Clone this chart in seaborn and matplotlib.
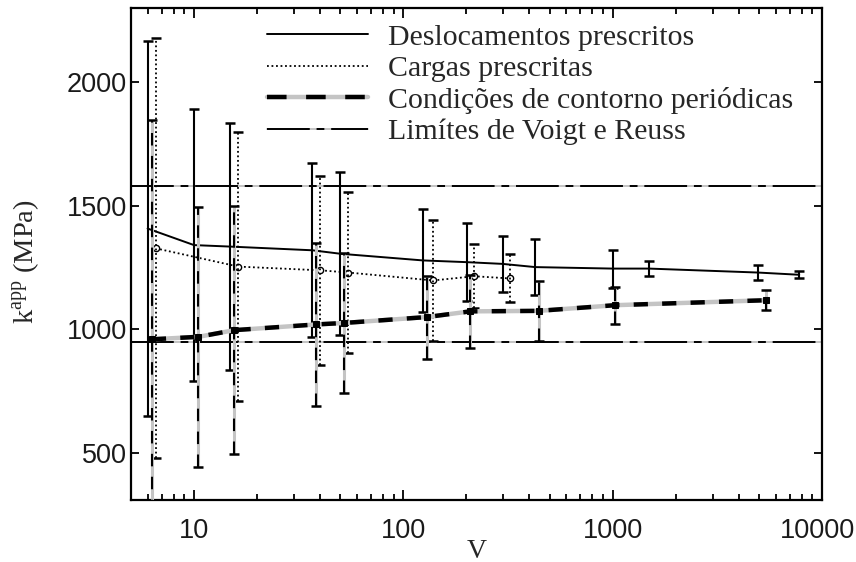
import numpy as np
import pandas as pd
import matplotlib
matplotlib.use("Agg")
import matplotlib.pyplot as plt
import seaborn as sns
from matplotlib.lines import Line2D
from matplotlib.ticker import NullFormatter
from matplotlib.transforms import ScaledTranslation

# ---- data ----
v_desl = [6.0, 10.0, 14.9, 36.8, 50.0, 124, 201, 298, 427, 1000, 1493, 4943, 7785]
k_desl = [1408, 1341, 1335, 1320, 1306, 1279, 1272, 1265, 1252, 1246, 1246, 1230, 1221]
e_desl = [760, 550, 500, 352, 330, 209, 157, 114, 113, 77, 31, 32, 15]

v_carg = [6.56, 16.3, 40.1, 54.7, 138.7, 218.7, 325]
k_carg = [1328, 1254, 1239, 1230, 1198, 1215, 1206]
e_carg = [850, 543, 381, 325, 243, 129, 97]

v_per = [6.29, 10.5, 15.6, 38.2, 52.0, 129.7, 209, 443, 1030, 5400]
k_per = [960, 970, 997, 1020, 1026, 1050, 1073, 1075, 1098, 1118]
e_per = [885, 527, 502, 330, 283, 168, 147, 121, 75, 40]

voigt = 1580
reuss = 950

labels = ["Deslocamentos prescritos", "Cargas prescritas",
          "Condições de contorno periódicas", "Limítes de Voigt e Reuss"]
xticks = [10, 100, 1000, 10000]
xticklabels = ["10", "100", "1000", "10000"]
yticks = [500, 1000, 1500, 2000]
yticklabels = ["500", "1000", "1500", "2000"]

sns.set_theme(style="ticks")
plt.rcParams["font.family"] = ["Liberation Serif", "DejaVu Serif"]
plt.rcParams["mathtext.fontset"] = "custom"
plt.rcParams["mathtext.rm"] = "Liberation Serif"

W, H = 856, 562
fig = plt.figure(figsize=(W / 100, H / 100), dpi=100)
fig.patch.set_facecolor("white")
L, R, T, B = 131, 822, 8, 500
ax = fig.add_axes([L / W, 1 - B / H, (R - L) / W, (B - T) / H])
ax.set_facecolor("white")

GREY = "#c4c4c4"
VR_DASH = (0, (22, 3.5, 4, 3.5))

# Voigt / Reuss bounds
for yb in (voigt, reuss):
    ax.axhline(yb, color=GREY, lw=1.4, zorder=1)
    ax.axhline(yb, color="black", lw=1.4, linestyle=VR_DASH, zorder=1.5)

df_d = pd.DataFrame({"V": v_desl, "k": k_desl})
df_c = pd.DataFrame({"V": v_carg, "k": k_carg})
df_p = pd.DataFrame({"V": v_per, "k": k_per})

# Deslocamentos prescritos
sns.lineplot(data=df_d, x="V", y="k", ax=ax, color="black", lw=1.4, sort=False, zorder=3)
ax.errorbar(v_desl, k_desl, yerr=e_desl, fmt="none", ecolor="black", elinewidth=1.5,
            capsize=3.3, capthick=1.8, zorder=3)

# Cargas prescritas
sns.lineplot(data=df_c, x="V", y="k", ax=ax, color="black", lw=1.3, linestyle=(0, (1, 1.5)),
             sort=False, zorder=3, marker="o", markersize=4.5, markerfacecolor="white",
             markeredgecolor="black", markeredgewidth=1)
eb = ax.errorbar(v_carg, k_carg, yerr=e_carg, fmt="none", ecolor="black", elinewidth=1.3,
                 capsize=3.3, capthick=1.8, zorder=3)
for b in eb[2]:
    b.set_linestyle((0, (1, 1.5)))

# Condicoes periodicas
ax.errorbar(v_per, k_per, yerr=e_per, fmt="none", ecolor=GREY, elinewidth=2.2, zorder=3.5)
eb = ax.errorbar(v_per, k_per, yerr=e_per, fmt="none", ecolor="black", elinewidth=1.5,
                 capsize=3.3, capthick=1.8, zorder=3.6)
for b in eb[2]:
    b.set_linestyle((0, (6, 5)))
sns.lineplot(data=df_p, x="V", y="k", ax=ax, color=GREY, lw=3.2, sort=False, zorder=4)
sns.lineplot(data=df_p, x="V", y="k", ax=ax, color="black", lw=3.2, linestyle=(0, (3.2, 3.2)),
             sort=False, zorder=4.1, marker="s", markersize=5, markerfacecolor="black",
             markeredgecolor="black")

ax.set_xscale("log")
ax.set_xlim(5, 10000)
ax.set_ylim(310, 2300)
ax.set_xticks(xticks)
ax.set_xticklabels(xticklabels, fontfamily="Liberation Sans", fontsize=19.5)
ax.xaxis.set_minor_formatter(NullFormatter())
ax.set_yticks(yticks)
ax.set_yticklabels(yticklabels, fontfamily="Liberation Sans", fontsize=19.5)
ax.tick_params(axis="both", which="both", direction="in", top=True, right=True,
               color="black", width=1.3, labelcolor="#1a1a1a")
ax.tick_params(axis="x", which="both", pad=13)
ax.tick_params(axis="y", which="both", pad=3)
ax.tick_params(axis="x", which="major", length=7)
ax.tick_params(axis="x", which="minor", length=4.5)
ax.tick_params(axis="y", which="major", length=5.5)
for s in ax.spines.values():
    s.set_visible(True)
    s.set_color("black")
    s.set_linewidth(1.6)

# keep the last x tick label inside the canvas
last = ax.xaxis.get_major_ticks()[-1].label1
last.set_transform(last.get_transform() + ScaledTranslation(-4 / 100, 0, fig.dpi_scale_trans))

ax.set_xlabel("V", fontsize=20, labelpad=-4)
ax.set_ylabel(r"k$^{\mathregular{app}}$ (MPa)", fontsize=20.5)
ax.yaxis.set_label_coords((42 - L) / (R - L), (B - 262) / (B - T))

# legend
FS = 21.5
h1 = Line2D([], [], color="black", lw=1.4)
h2 = Line2D([], [], color="black", lw=1.3, linestyle=(0, (1, 1.5)))
h3 = (Line2D([], [], color=GREY, lw=3.2), Line2D([], [], color="black", lw=3.2, linestyle=(0, (4.4, 4.4))))
h4 = (Line2D([], [], color=GREY, lw=1.4), Line2D([], [], color="black", lw=1.4, linestyle=(0, (22, 3.5, 4, 3.5))))
leg = ax.legend([h1, h2, h3, h4], labels, loc="upper left",
                bbox_to_anchor=(267 / W, 1 - 24 / H), bbox_transform=fig.transFigure,
                frameon=False, fontsize=FS, handlelength=3.38, handletextpad=0.67,
                labelspacing=0.15, borderpad=0, borderaxespad=0)
leg.set_zorder(10)

fig.savefig("out.png", dpi=100, facecolor="white")
